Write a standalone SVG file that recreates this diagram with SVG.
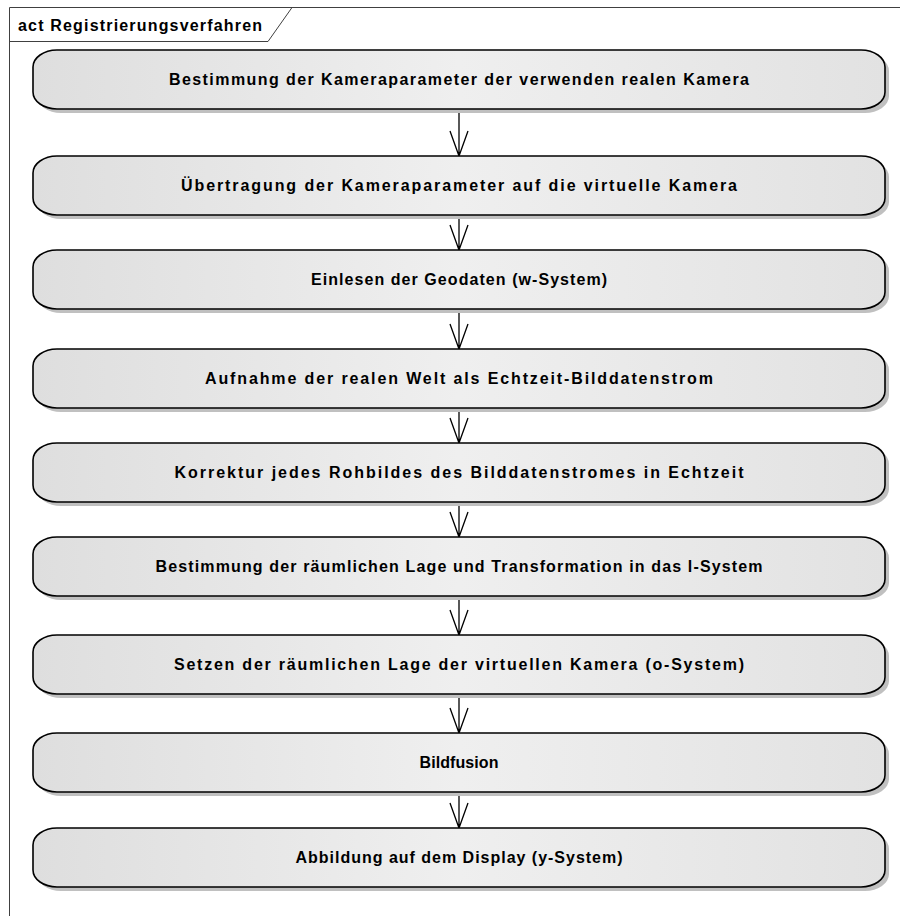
<svg xmlns="http://www.w3.org/2000/svg" width="900" height="916" viewBox="0 0 900 916">
<style>
.frame{fill:none;stroke:#404040;stroke-width:1}
.shadow{fill:#c0c0c0}
.act{fill:url(#g);stroke:#000;stroke-width:1.6}
.lbl{font-family:"Liberation Sans",Arial,sans-serif;font-weight:bold;font-size:16px;fill:#000;text-anchor:middle}
.hdr{font-family:"Liberation Sans",Arial,sans-serif;font-weight:bold;font-size:16px;fill:#000}
.edge{stroke:#000;stroke-width:1.3;fill:none}
</style>
<defs>
<linearGradient id="g" x1="0" y1="0" x2="1" y2="0">
<stop offset="0" stop-color="#dedede"/>
<stop offset="0.5" stop-color="#efefef"/>
<stop offset="1" stop-color="#e2e2e2"/>
</linearGradient>
</defs>
<rect width="900" height="916" fill="#fff"/>
<g id="frame">
<path class="frame" d="M9.5 930 V7.5 H905"/>
<path class="frame" d="M9.5 41.5 H268 L292 7.5"/>
<text class="hdr" x="18" y="31" textLength="244" lengthAdjust="spacing">act Registrierungsverfahren</text>
</g>
<g id="connectors">
<path class="edge" d="M459 108 V156 M450 131 L459 156 L468 131"/>
<path class="edge" d="M459 214 V250 M450 225 L459 250 L468 225"/>
<path class="edge" d="M459 309 V349 M450 324 L459 349 L468 324"/>
<path class="edge" d="M459 408 V443 M450 418 L459 443 L468 418"/>
<path class="edge" d="M459 503 V537 M450 512 L459 537 L468 512"/>
<path class="edge" d="M459 597 V635 M450 610 L459 635 L468 610"/>
<path class="edge" d="M459 695 V733 M450 708 L459 733 L468 708"/>
<path class="edge" d="M459 793 V828 M450 803 L459 828 L468 803"/>
</g>
<g id="n1"><rect class="shadow" x="37" y="54" width="852" height="59" rx="24" ry="17"/><rect class="act" x="33" y="50" width="852" height="59" rx="24" ry="17"/><text class="lbl" x="459" y="85" textLength="580" lengthAdjust="spacing">Bestimmung der Kameraparameter der verwenden realen Kamera</text></g>
<g id="n2"><rect class="shadow" x="37" y="160" width="852" height="59" rx="24" ry="17"/><rect class="act" x="33" y="156" width="852" height="59" rx="24" ry="17"/><text class="lbl" x="459" y="191" textLength="556" lengthAdjust="spacing">Übertragung der Kameraparameter auf die virtuelle Kamera</text></g>
<g id="n3"><rect class="shadow" x="37" y="254" width="852" height="59" rx="24" ry="17"/><rect class="act" x="33" y="250" width="852" height="59" rx="24" ry="17"/><text class="lbl" x="459" y="285" textLength="296" lengthAdjust="spacing">Einlesen der Geodaten (w-System)</text></g>
<g id="n4"><rect class="shadow" x="37" y="353" width="852" height="59" rx="24" ry="17"/><rect class="act" x="33" y="349" width="852" height="59" rx="24" ry="17"/><text class="lbl" x="459" y="384" textLength="508" lengthAdjust="spacing">Aufnahme der realen Welt als Echtzeit-Bilddatenstrom</text></g>
<g id="n5"><rect class="shadow" x="37" y="447" width="852" height="59" rx="24" ry="17"/><rect class="act" x="33" y="443" width="852" height="59" rx="24" ry="17"/><text class="lbl" x="459" y="478" textLength="569" lengthAdjust="spacing">Korrektur jedes Rohbildes des Bilddatenstromes in Echtzeit</text></g>
<g id="n6"><rect class="shadow" x="37" y="541" width="852" height="59" rx="24" ry="17"/><rect class="act" x="33" y="537" width="852" height="59" rx="24" ry="17"/><text class="lbl" x="459" y="572" textLength="607" lengthAdjust="spacing">Bestimmung der räumlichen Lage und Transformation in das l-System</text></g>
<g id="n7"><rect class="shadow" x="37" y="639" width="852" height="59" rx="24" ry="17"/><rect class="act" x="33" y="635" width="852" height="59" rx="24" ry="17"/><text class="lbl" x="459" y="670" textLength="570" lengthAdjust="spacing">Setzen der räumlichen Lage der virtuellen Kamera (o-System)</text></g>
<g id="n8"><rect class="shadow" x="37" y="737" width="852" height="59" rx="24" ry="17"/><rect class="act" x="33" y="733" width="852" height="59" rx="24" ry="17"/><text class="lbl" x="459" y="768" textLength="79" lengthAdjust="spacing">Bildfusion</text></g>
<g id="n9"><rect class="shadow" x="37" y="832" width="852" height="59" rx="24" ry="17"/><rect class="act" x="33" y="828" width="852" height="59" rx="24" ry="17"/><text class="lbl" x="459" y="863" textLength="327" lengthAdjust="spacing">Abbildung auf dem Display (y-System)</text></g>
</svg>
